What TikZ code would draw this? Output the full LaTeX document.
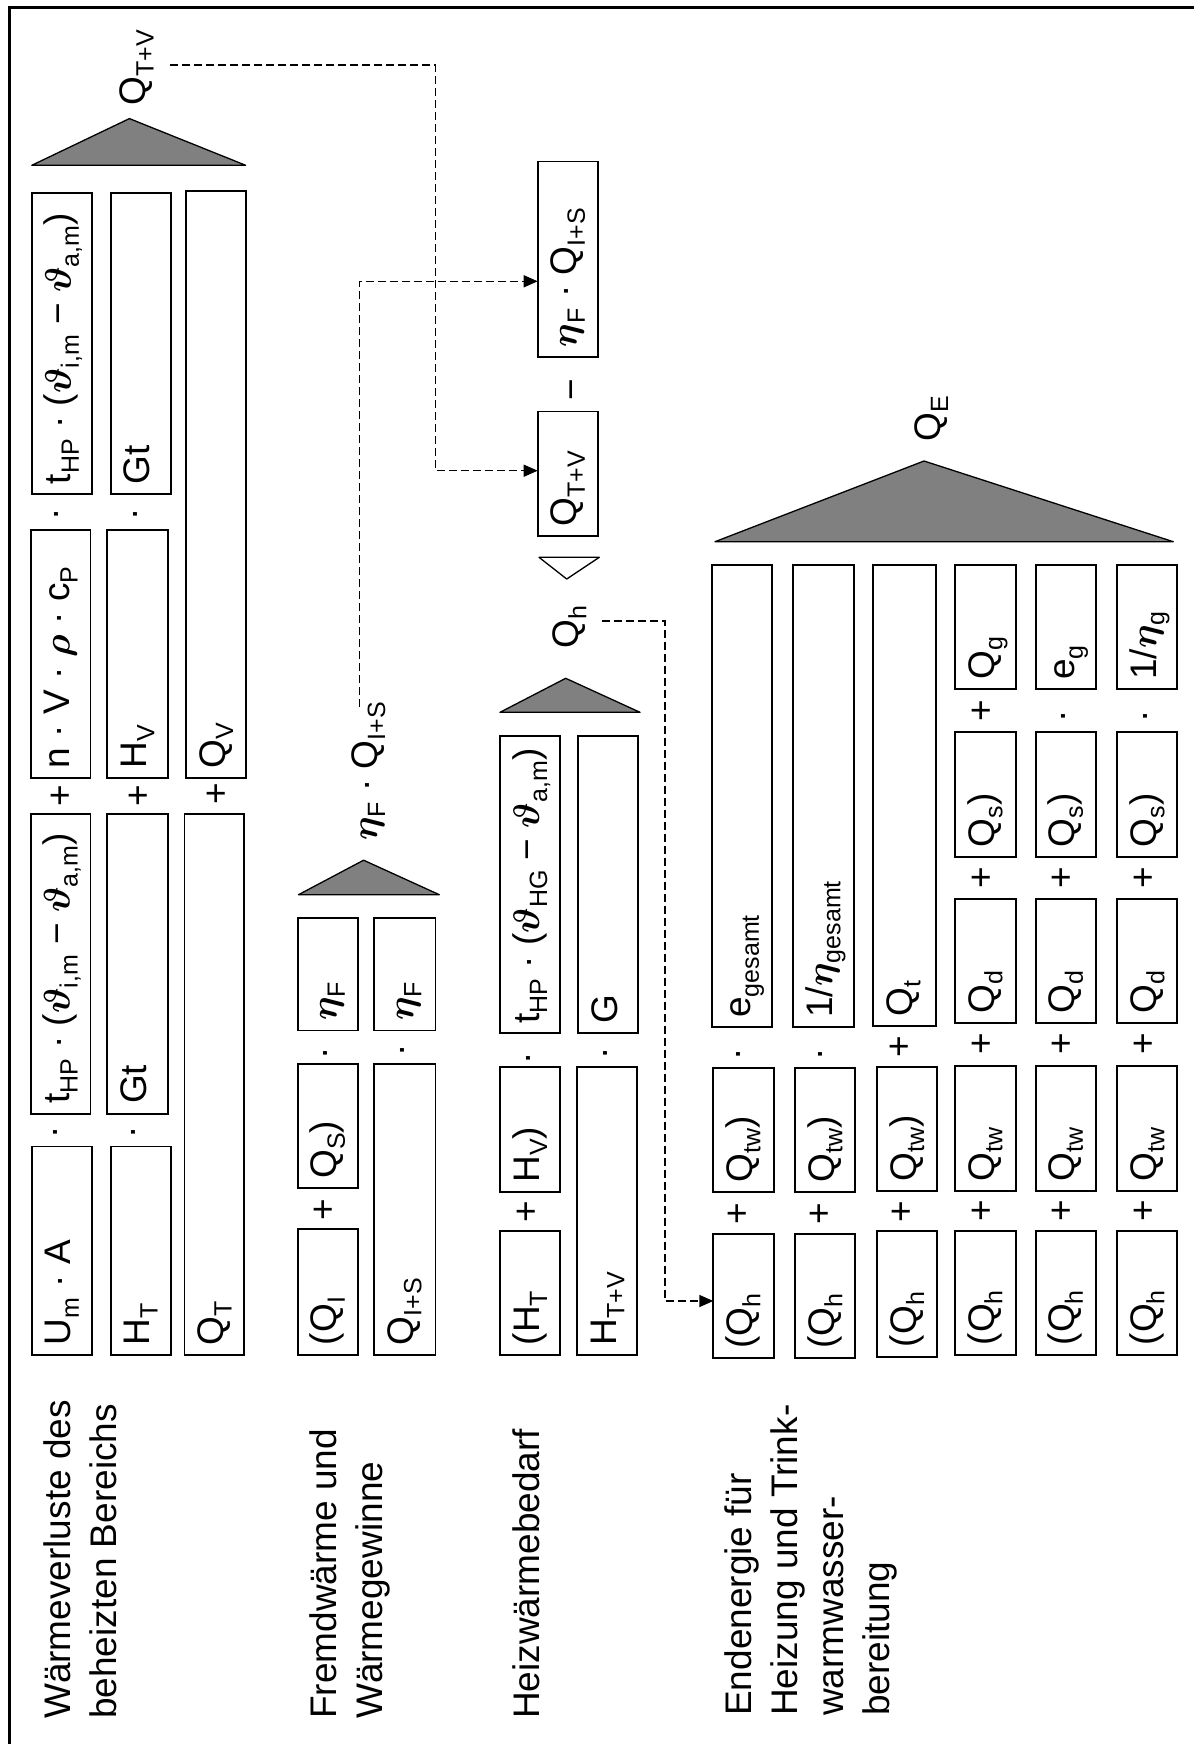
\RequirePackage{fix-cm}
\documentclass[tikz,border=0pt]{standalone}
\usepackage{fontspec}
\setmainfont{Liberation Sans}
\usetikzlibrary{arrows.meta,calc}
\definecolor{trigray}{RGB}{128,128,128}
\newcommand{\mysub}[1]{\raisebox{-0.22em}{\fontsize{25}{25}\selectfont #1}}
\newcommand{\myvt}{{\boldmath$\vartheta$}}
\newcommand{\myeta}{{\boldmath$\eta$}}
\newcommand{\myrho}{{\boldmath$\rho$}}
\tikzset{
  txt/.style={rotate=90, anchor=base west, inner sep=0pt, font=\fontsize{37}{46}\selectfont},
  op/.style={rotate=90, anchor=base, inner sep=0pt, font=\fontsize{37}{46}\selectfont},
  boxst/.style={draw, line width=1.8pt, inner sep=0pt, outer sep=0pt, rectangle},
  tri/.style={fill=trigray, draw, line width=1.3pt, line join=round},
  wtri/.style={fill=white, draw, line width=1.3pt, line join=round},
  dashl/.style={dash pattern=on 8pt off 4pt, line width=1.4pt},
  arr/.style={-{Triangle[length=14pt,width=12pt]}},
  frame/.style={line width=3pt}
}
\newcommand{\bx}[6]{%
  \node[boxst, minimum width={(#4)-(#2)}, minimum height={(#5)-(#3)}] (#1) at ({((#2)+(#4))/2},{((#3)+(#5))/2}) {};
  \node[txt] (#1t) at ($(#1.south west)+(39,-9.5)$) {#6};}
\begin{document}
\begin{tikzpicture}[x=1pt,y=-1pt]
\useasboundingbox (0,0) rectangle (1194,1744);
\draw[frame] (9.6,1744) -- (9.6,7.7) -- (1194,7.7);

% ---------- Section 1 ----------
\filldraw[tri] (31.8,165.3) -- (245.7,165.3) -- (129.4,118.6) -- cycle;
\node[txt] (lQTV) at (145.5,105.5) {Q\mysub{T+V}};
\bx{A1}{31.8}{193.3}{91.8}{493.7}{t\mysub{HP} · (\myvt\mysub{i,m} − \myvt\mysub{a,m})}
\bx{A2}{30.6}{530}{90.5}{778}{n · V · \myrho{} · c\mysub{P}}
\bx{A3}{30.6}{814.3}{90.5}{1113.6}{t\mysub{HP} · (\myvt\mysub{i,m} − \myvt\mysub{a,m})}
\bx{A4}{31.8}{1146.5}{91.8}{1354.7}{U\mysub{m} · A}
\bx{B1}{110.6}{193.3}{170.7}{493.7}{Gt}
\bx{B2}{107.2}{530}{167.6}{778}{H\mysub{V}}
\bx{B3}{107.2}{814.3}{167.6}{1113.6}{Gt}
\bx{B4}{110.6}{1146.5}{170.7}{1354.7}{H\mysub{T}}
\bx{C1}{186}{191.4}{245.7}{778}{Q\mysub{V}}
\bx{C2}{184.5}{814.3}{244.2}{1354.7}{Q\mysub{T}}
\node[op] (o1) at (66.6,514.7) {·};
\node[op] (o2) at (145,514.7) {·};
\node[op] (o3) at (72.3,795.2) {+};
\node[op] (o4) at (150,795.2) {+};
\node[op] (o5) at (228,793.3) {+};
\node[op] (o6) at (65.8,1132.7) {·};
\node[op] (o7) at (143.9,1132.7) {·};
\node[txt] (l1a) at (70.8,1719) {Wärmeverluste des};
\node[txt] (l1b) at (116.7,1719) {beheizten Bereichs};

% ---------- Section 2 ----------
\filldraw[tri] (298.5,894.7) -- (439.3,894.7) -- (363.6,860.2) -- cycle;
\node[txt] (lEQ) at (377,841) {\myeta\mysub{F} · Q\mysub{I+S}};
\bx{D1}{297.7}{917.6}{357.8}{1030.5}{\myeta\mysub{F}}
\bx{D2}{297.7}{1063.8}{357.8}{1188.3}{Q\mysub{S})}
\bx{D3}{297.7}{1229.2}{357.8}{1354.7}{(Q\mysub{I}}
\bx{E1}{374.3}{917.6}{435.5}{1030.5}{\myeta\mysub{F}}
\bx{E2}{374.3}{1063.8}{435.5}{1354.7}{Q\mysub{I+S}}
\node[op] (o8) at (335.6,1053.5) {·};
\node[op] (o9) at (412.9,1050.8) {·};
\node[op] (o10) at (335.6,1209.3) {+};
\node[txt] (l2a) at (336.8,1719) {Fremdwärme und};
\node[txt] (l2b) at (382.7,1719) {Wärmegewinne};

% ---------- Middle ----------
\bx{F1}{537.7}{411.4}{597.8}{535.8}{Q\mysub{T+V}}
\bx{F2}{537.7}{161.5}{597.8}{356.7}{\myeta\mysub{F} · Q\mysub{I+S}}
\node[op] (o11) at (583.2,390) {−};
\filldraw[wtri] (539,557.3) -- (599.3,557.3) -- (566.7,579) -- cycle;

% ---------- Section 3 ----------
\node[txt] (lQh) at (578.3,648.3) {Q\mysub{h}};
\filldraw[tri] (500,712.3) -- (640,712.3) -- (565.7,678.3) -- cycle;
\bx{G1}{500}{736}{560}{1033.3}{t\mysub{HP} · (\myvt\mysub{HG} − \myvt\mysub{a,m})}
\bx{G2}{578.3}{736}{638.3}{1033.3}{G}
\bx{G3}{500}{1066.7}{560}{1192.3}{H\mysub{V})}
\bx{G4}{500}{1231}{560}{1355}{(H\mysub{T}}
\bx{G5}{577.3}{1066.7}{636.7}{1355}{H\mysub{T+V}}
\node[op] (o12) at (538,1058.3) {·};
\node[op] (o13) at (615.3,1053.3) {·};
\node[op] (o14) at (538,1211.7) {+};
\node[txt] (l3) at (539.6,1719) {Heizwärmebedarf};

% ---------- Section 4 ----------
\node[txt] (lQE) at (940,441.7) {Q\mysub{E}};
\filldraw[tri] (715,541.7) -- (1173.3,541.7) -- (924,461) -- cycle;
\bx{P1a}{711.7}{565}{771.7}{1027.3}{e\mysub{gesamt}}
\bx{P1b}{713.3}{1068.3}{773.7}{1192.3}{Q\mysub{tw})}
\bx{P1c}{713.3}{1234.3}{773.7}{1358.3}{(Q\mysub{h}}
\bx{P2a}{793.3}{565}{854}{1027.3}{1/\myeta\mysub{gesamt}}
\bx{P2b}{795.3}{1068.3}{855.3}{1192.3}{Q\mysub{tw})}
\bx{P2c}{795.3}{1234.3}{855.3}{1358.3}{(Q\mysub{h}}
\bx{P3a}{873.3}{565}{935.7}{1025.7}{Q\mysub{t}}
\bx{P3b}{877}{1066.7}{937}{1190.7}{Q\mysub{tw})}
\bx{P3c}{877}{1231}{937}{1356.7}{(Q\mysub{h}}
\bx{P4a}{955.3}{565}{1015.7}{689.3}{Q\mysub{g}}
\bx{P4b}{955.3}{732.3}{1015.7}{856.7}{Q\mysub{s})}
\bx{P4c}{955.3}{899}{1015.7}{1022.7}{Q\mysub{d}}
\bx{P4d}{955.3}{1065.7}{1015.7}{1190.7}{Q\mysub{tw}}
\bx{P4e}{955.3}{1231}{1015.7}{1355}{(Q\mysub{h}}
\bx{P5a}{1035.7}{565}{1096}{689.3}{e\mysub{g}}
\bx{P5b}{1035.7}{732.3}{1096}{856.7}{Q\mysub{s})}
\bx{P5c}{1035.7}{899}{1096}{1022.7}{Q\mysub{d}}
\bx{P5d}{1035.7}{1065.7}{1096}{1190.7}{Q\mysub{tw}}
\bx{P5e}{1035.7}{1231}{1096}{1355}{(Q\mysub{h}}
\bx{P6a}{1117.3}{565}{1177.3}{689.3}{1/\myeta\mysub{g}}
\bx{P6b}{1117.3}{732.3}{1177.3}{856.7}{Q\mysub{s})}
\bx{P6c}{1117.3}{899}{1177.3}{1022.7}{Q\mysub{d}}
\bx{P6d}{1117.3}{1065.7}{1177.3}{1190.7}{Q\mysub{tw}}
\bx{P6e}{1117.3}{1231}{1177.3}{1355}{(Q\mysub{h}}
\node[op] (p1) at (748,1054) {·};
\node[op] (p2) at (749,1213.3) {+};
\node[op] (p3) at (830.3,1054) {·};
\node[op] (p4) at (831.3,1213.3) {+};
\node[op] (p5) at (911.3,1046.7) {+};
\node[op] (p6) at (913,1211.7) {+};
\node[op] (p7) at (993,710.5) {+};
\node[op] (p8) at (993,878) {+};
\node[op] (p9) at (993,1044) {+};
\node[op] (p10) at (993,1210.5) {+};
\node[op] (p11) at (1073,716.7) {·};
\node[op] (p12) at (1073,878) {+};
\node[op] (p13) at (1073,1044) {+};
\node[op] (p14) at (1073,1210.5) {+};
\node[op] (p15) at (1155.7,716.7) {·};
\node[op] (p16) at (1155.3,878) {+};
\node[op] (p17) at (1155.3,1044) {+};
\node[op] (p18) at (1155.3,1210.5) {+};
\node[txt] (l4a) at (751.7,1716) {Endenergie für};
\node[txt] (l4b) at (797.5,1716) {Heizung und Trink-};
\node[txt] (l4c) at (843.3,1716) {warmwasser-};
\node[txt] (l4d) at (889,1716) {bereitung};

% ---------- Connectors ----------
\coordinate (q1s) at (170.3,65.1);
\coordinate (k1a) at (435.5,65.1);
\coordinate (k1b) at (435.5,470.7);
\draw[dashl,arr] (q1s) -- (k1a) -- (k1b) -- (k1b -| F1.west);
\coordinate (q2s) at (359.7,707.2);
\coordinate (k2) at (359.7,281.3);
\draw[dashl,arr] (q2s) -- (k2) -- (k2 -| F2.west);
\coordinate (q3s) at (601.7,621);
\coordinate (k3a) at (665,621);
\coordinate (k3b) at (665,1301);
\draw[dashl,arr] (q3s) -- (k3a) -- (k3b) -- (k3b -| P1c.west);
\end{tikzpicture}
\end{document}
